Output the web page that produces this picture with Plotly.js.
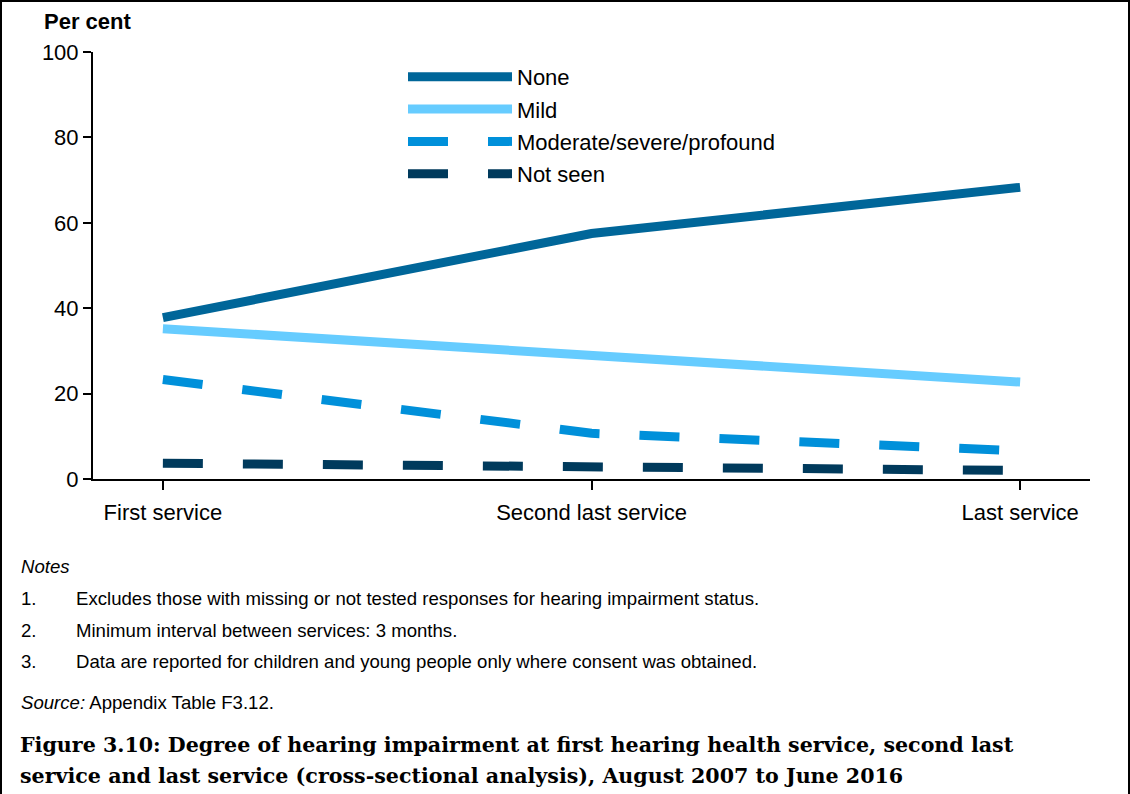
<!DOCTYPE html>
<html>
<head>
<meta charset="utf-8">
<script src="https://cdn.plot.ly/plotly-3.0.1.min.js"></script>
<style>
html,body{margin:0;padding:0;background:#fff;}
#frame{position:absolute;left:0;top:0;height:794px;border-left:2px solid #000;border-top:2px solid #000;border-right:2px solid #000;box-sizing:border-box;width:1130px;}
#chart{position:absolute;left:0;top:0;width:1130px;height:794px;}
</style>
</head>
<body>
<div id="chart"></div>
<div id="frame"></div>
<script>
const categories = ["First service", "Second last service", "Last service"];
const seriesNames = ["None", "Mild", "Moderate/severe/profound", "Not seen"];
const noneVals = [37.8, 57.5, 68.3];
const mildVals = [35.2, 28.8, 22.7];
const moderateVals = [23.3, 10.7, 6.6];
const notSeenVals = [3.7, 3.0, 2.0];
const yTicks = [0, 20, 40, 60, 80, 100];
const notes = [
  "Excludes those with missing or not tested responses for hearing impairment status.",
  "Minimum interval between services: 3 months.",
  "Data are reported for children and young people only where consent was obtained."
];
const sourceText = "Appendix Table F3.12.";
const figTitle1 = "Figure 3.10: Degree of hearing impairment at first hearing health service, second last";
const figTitle2 = "service and last service (cross-sectional analysis), August 2007 to June 2016";

const xIdx = categories.map((c, i) => i);
function mk(name, vals, color, dash, grp) {
  return {x: xIdx, y: vals, name: name, type: 'scatter', mode: 'lines',
    legendgroup: grp, line: {color: color, width: 9, dash: dash}, hoverinfo: 'skip'};
}
const traces = [
  mk(seriesNames[0], noneVals, '#006699', 'solid', 'a'),
  mk(seriesNames[1], mildVals, '#66CCFF', 'solid', 'b'),
  mk(seriesNames[2], moderateVals, '#0090DA', '40px,40px', 'c'),
  mk(seriesNames[3], notSeenVals, '#003A5C', '40px,40px', 'd')
];

const F = 'Liberation Sans, Arial, sans-serif';
const PW = 997, PH = 427;
const px = v => (v - 93) / PW;
const py = v => (479 - v) / PH;
const annotations = [
  {xref: 'paper', yref: 'paper', x: px(42), y: py(22), xanchor: 'left', yanchor: 'middle',
   text: '<b>Per cent</b>', showarrow: false, font: {family: F, size: 22, color: '#000'}},
  {xref: 'paper', yref: 'paper', x: px(19), y: py(566), xanchor: 'left', yanchor: 'middle',
   text: '<i>Notes</i>', showarrow: false, font: {family: F, size: 18.6, color: '#000'}}
];
notes.forEach((t, i) => {
  const yy = [598, 630, 661][i];
  annotations.push({xref: 'paper', yref: 'paper', x: px(19), y: py(yy), xanchor: 'left', yanchor: 'middle',
    text: (i + 1) + '.', showarrow: false, font: {family: F, size: 18.6, color: '#000'}});
  annotations.push({xref: 'paper', yref: 'paper', x: px(74), y: py(yy), xanchor: 'left', yanchor: 'middle',
    text: t, showarrow: false, font: {family: F, size: 18.6, color: '#000'}});
});
annotations.push({xref: 'paper', yref: 'paper', x: px(19), y: py(702), xanchor: 'left', yanchor: 'middle',
  text: '<i>Source:</i> ' + sourceText, showarrow: false, font: {family: F, size: 18.6, color: '#000'}});
const SF = 'DejaVu Serif, Liberation Serif, serif';
[[figTitle1, 745], [figTitle2, 776]].forEach(([t, yy]) => {
  annotations.push({xref: 'paper', yref: 'paper', x: px(18), y: py(yy), xanchor: 'left', yanchor: 'middle',
    text: '<b>' + t + '</b>', showarrow: false, font: {family: SF, size: 20.6, color: '#000'}});
});

const layout = {
  width: 1130, height: 794,
  margin: {l: 93, r: 40, t: 52, b: 315, pad: 0},
  paper_bgcolor: '#fff', plot_bgcolor: '#fff',
  showlegend: true,
  legend: {x: px(403), y: py(56), xanchor: 'left', yanchor: 'top',
    font: {family: F, size: 22, color: '#000'}, bgcolor: 'rgba(0,0,0,0)',
    tracegroupgap: 0.7, traceorder: 'grouped', itemwidth: 104},
  xaxis: {range: [-0.163, 2.163], tickvals: xIdx, ticktext: categories,
    showline: true, linecolor: '#000', linewidth: 2, ticks: 'outside', ticklen: 9, tickwidth: 2, tickcolor: '#000',
    showgrid: false, zeroline: false, tickfont: {family: F, size: 22, color: '#000'}, fixedrange: true,
    ticklabelstandoff: 4},
  yaxis: {range: [0, 100], tickvals: yTicks, showline: true, linecolor: '#000', linewidth: 2,
    ticks: 'outside', ticklen: 8, tickwidth: 2, tickcolor: '#000', showgrid: false, zeroline: false,
    tickfont: {family: F, size: 22, color: '#000'}, fixedrange: true},
  annotations: annotations
};
Plotly.newPlot('chart', traces, layout, {displayModeBar: false, staticPlot: true});
</script>
</body>
</html>
